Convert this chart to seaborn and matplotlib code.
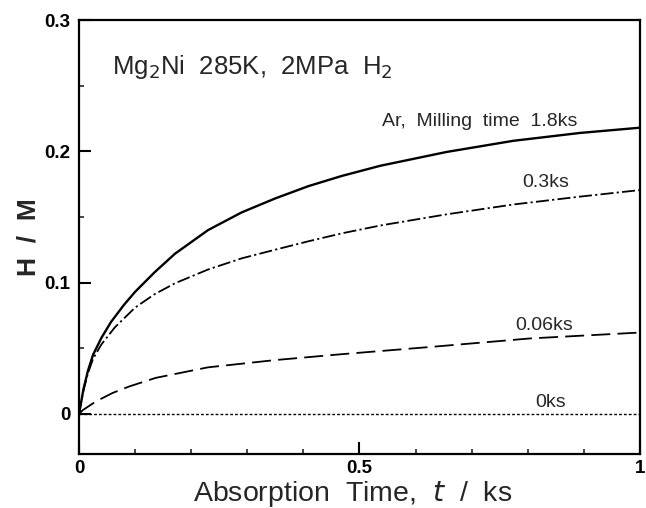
import matplotlib
matplotlib.use("Agg")
import matplotlib.pyplot as plt
from matplotlib.ticker import FixedLocator, MultipleLocator, FuncFormatter
import pandas as pd
import seaborn as sns

# values (t in ks, H/M)
t_18 = [0.0, 0.008, 0.016, 0.025, 0.04, 0.057, 0.08, 0.10, 0.135, 0.171, 0.23,
        0.29, 0.349, 0.409, 0.468, 0.537, 0.655, 0.774, 0.893, 1.0]
hm_18 = [0.0, 0.019, 0.033, 0.045, 0.058, 0.070, 0.083, 0.093, 0.108, 0.122, 0.140,
         0.1535, 0.164, 0.1735, 0.1812, 0.189, 0.1995, 0.208, 0.214, 0.218]

t_03 = [0.0, 0.008, 0.016, 0.025, 0.04, 0.064, 0.10, 0.134, 0.171, 0.23, 0.29,
        0.349, 0.409, 0.468, 0.537, 0.655, 0.774, 0.893, 1.0]
hm_03 = [0.0, 0.018, 0.031, 0.042, 0.053, 0.066, 0.081, 0.091, 0.0995, 0.110, 0.1185,
         0.125, 0.1315, 0.1375, 0.1435, 0.152, 0.1595, 0.1655, 0.1705]

t_006 = [0.0, 0.007, 0.03, 0.06, 0.09, 0.137, 0.23, 0.349, 0.468, 0.626, 0.804, 1.0]
hm_006 = [0.0, 0.003, 0.0095, 0.016, 0.021, 0.0275, 0.0355, 0.041, 0.0455, 0.051,
          0.0575, 0.062]

t_0 = [0.0, 1.0]
hm_0 = [0.0, 0.0]

series_names = ["1.8ks", "0.3ks", "0.06ks", "0ks"]
series_labels = ["Ar,  Milling  time  1.8ks", "0.3ks", "0.06ks", "0ks"]
label_x = [0.714, 0.832, 0.83, 0.84]
label_y = [0.223, 0.176, 0.067, 0.0085]

frames = []
for name, t, hm in zip(series_names, [t_18, t_03, t_006, t_0],
                       [hm_18, hm_03, hm_006, hm_0]):
    frames.append(pd.DataFrame({"t": t, "hm": hm, "milling": name}))
df = pd.concat(frames, ignore_index=True)

sns.set_theme(style="ticks")
plt.rcParams["font.family"] = ["Liberation Sans", "DejaVu Sans"]

fig = plt.figure(figsize=(6.46, 5.08), dpi=100)
ax = fig.add_axes([0.1223, 0.1063, 0.8684, 0.8543])

dash_styles = {
    "1.8ks": "",
    "0.3ks": (7.2, 1.8, 1.2, 1.8),
    "0.06ks": (10.5, 4),
    "0ks": (2, 1.5),
}
width_styles = {"1.8ks": 1.7, "0.3ks": 1.3, "0.06ks": 1.3, "0ks": 1.0}
for name in series_names:
    sub = df[df["milling"] == name]
    sns.lineplot(data=sub, x="t", y="hm", ax=ax, color="black",
                 linewidth=width_styles[name], estimator=None, sort=False,
                 dashes=False, legend=False)
    line = ax.lines[-1]
    if dash_styles[name]:
        line.set_dashes(dash_styles[name])

for text, x, y in zip(series_labels, label_x, label_y):
    ax.text(x, y, text, ha="center", va="center", fontsize=14)

ax.text(0.059, 0.264, "Mg$_2$Ni  285K,  2MPa  H$_2$", ha="left", va="center",
        fontsize=18.5)

ax.set_xlim(0, 1)
ax.set_ylim(-0.0305, 0.3)
ax.xaxis.set_major_locator(FixedLocator([0, 0.5, 1]))
ax.xaxis.set_minor_locator(MultipleLocator(0.1))
ax.yaxis.set_major_locator(FixedLocator([0, 0.1, 0.2, 0.3]))
ax.yaxis.set_minor_locator(MultipleLocator(0.05))
fmt = FuncFormatter(lambda v, _: "0" if abs(v) < 1e-9 else ("1" if abs(v - 1) < 1e-9 else f"{v:g}"))
ax.xaxis.set_major_formatter(fmt)
ax.yaxis.set_major_formatter(fmt)

ax.tick_params(which="major", direction="in", length=8.5, width=1.5,
               labelsize=13.5, pad=6, colors="black")
ax.tick_params(axis="x", which="major", pad=4.5)
ax.tick_params(which="minor", direction="in", length=3.5, width=1.2)
for lab in ax.get_xticklabels() + ax.get_yticklabels():
    lab.set_fontweight("bold")
for sp in ax.spines.values():
    sp.set_visible(True)
    sp.set_linewidth(1.6)
    sp.set_color("black")

ax.set_xlabel("Absorption  Time,  $t$  /  ks", fontsize=20.5)
ax.xaxis.set_label_coords(0.487, -0.058)
ax.set_ylabel("H  /  M", fontsize=19, fontweight="bold", labelpad=3)

fig.savefig("out.png", dpi=100)
